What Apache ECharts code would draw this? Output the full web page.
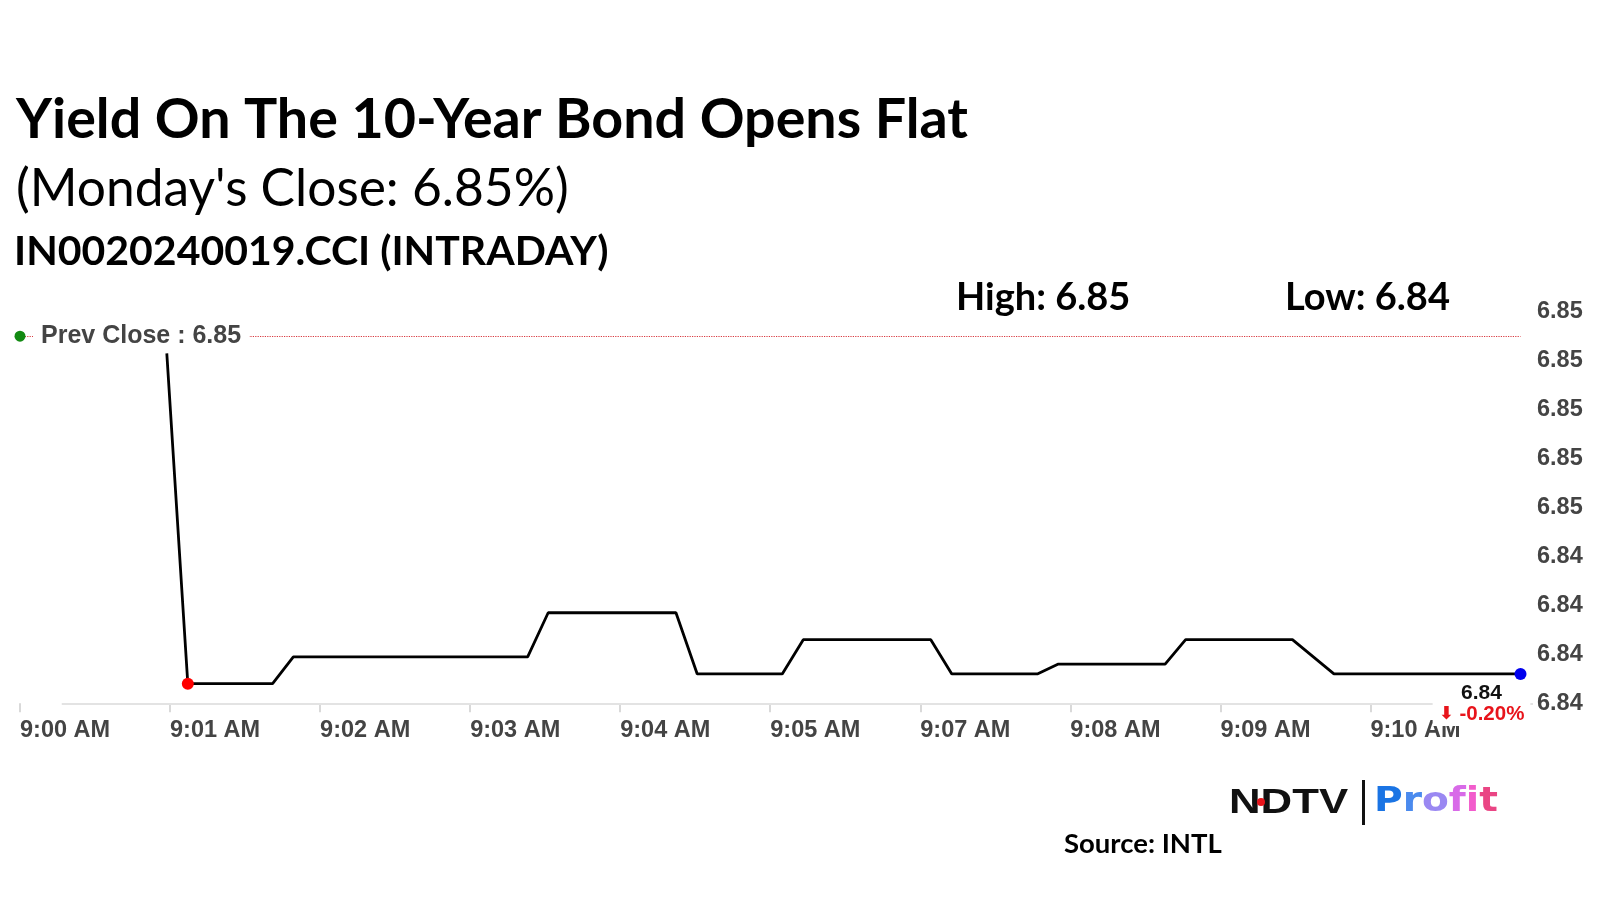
<!DOCTYPE html>
<html><head><meta charset="utf-8">
<script src="https://cdn.jsdelivr.net/npm/echarts@6/dist/echarts.min.js"></script>
<style>html,body{margin:0;padding:0;background:#fff}#c{width:1600px;height:900px}</style>
</head><body><div id="c"></div>
<script>
// x tick labels (one per minute tick from 9:00)
const tickLabels = ['9:00 AM','9:01 AM','9:02 AM','9:03 AM','9:04 AM','9:05 AM','9:07 AM','9:08 AM','9:09 AM','9:10 AM'];
// seconds after 9:00 for each vertex of the intraday line
const secs = [58.7, 67.1, 101.0, 109.3, 203.0, 211.2, 262.3, 270.8, 304.8, 313.2, 364.2, 372.6, 406.8, 415.0, 457.9, 466.1, 508.8, 525.4, 600.0];
// yield values (%)
const yields = [6.8523, 6.8388, 6.8388, 6.8399, 6.8399, 6.8417, 6.8417, 6.8392, 6.8392, 6.8406, 6.8406, 6.8392, 6.8392, 6.8396, 6.8396, 6.8406, 6.8406, 6.8392, 6.8392];
const prevClose = 6.8530;
const yMin = 6.838, yMax = 6.854, yStep = 0.002;
const xMax = 605;

const minIdx = yields.indexOf(Math.min(...yields.slice(1)));
const lastIdx = yields.length - 1;
const last = yields[lastIdx];
const pct = (last - prevClose) / prevClose * 100;

const AX = {color:'#444', fontFamily:'Liberation Sans, Arial', fontWeight:'bold', fontSize:23.5};

const lineData = secs.map((s, i) => {
  const d = {value:[s, yields[i]], symbol:'none'};
  if (i === minIdx) { d.symbol='circle'; d.symbolSize=12; d.itemStyle={color:'#ff0000'}; }
  if (i === lastIdx) {
    d.symbol='circle'; d.symbolSize=12; d.itemStyle={color:'#0000ee'};
    d.label = {
      show:true, position:'bottom', offset:[-39,-3],
      backgroundColor:'#fff', padding:[1,6],
      formatter: '{a|' + last.toFixed(2) + '}\n{c|' + (pct < 0 ? '⬇' : '⬆') + '}{b| ' + pct.toFixed(2) + '%}',
      rich:{
        a:{fontFamily:'Liberation Sans, Arial', fontWeight:'bold', fontSize:21, color:'#111', lineHeight:21, align:'center'},
        b:{fontFamily:'Liberation Sans, Arial', fontWeight:'bold', fontSize:20.5, color:'#e8141b', lineHeight:21},
        c:{fontFamily:'DejaVu Sans', fontWeight:'bold', fontSize:18, color:'#e8141b', lineHeight:21}
      }
    };
  }
  return d;
});

const chart = echarts.init(document.getElementById('c'), null, {renderer:'canvas'});
chart.setOption({
  backgroundColor:'#fff',
  animation:false,
  grid:{left:20, right:67, top:311.7, bottom:196.7},
  xAxis:{
    type:'value', min:0, max:xMax,
    axisLine:{show:false}, splitLine:{show:false},
    axisTick:{show:true, customValues: tickLabels.map((_, i) => i*60), length:9, lineStyle:{color:'#d9d9d9', width:2}},
    axisLabel:Object.assign({customValues: tickLabels.map((_, i) => i*60), align:'left', margin:15,
      formatter: v => tickLabels[Math.round(v/60)] || ''}, AX)
  },
  yAxis:{
    type:'value', position:'right', min:yMin, max:yMax, interval:yStep,
    axisLine:{show:false}, axisTick:{show:false}, splitLine:{show:false},
    axisLabel:Object.assign({margin:4, formatter: v => v.toFixed(2)}, AX)
  },
  series:[
    {
      type:'line', data:[], z:1, silent:true,
      markLine:{
        z:1, silent:true, symbol:['none','none'], label:{show:false},
        lineStyle:{type:'solid', color:'#e3e3e3', width:2},
        data:[[{coord:[16.7, yMin]}, {coord:[xMax, yMin]}]]
      }
    },
    {
      type:'line', z:3, data:lineData, symbol:'none',
      lineStyle:{color:'#000', width:2.8}, itemStyle:{color:'#000'},
      markLine:{
        z:4, silent:true, symbol:['none','none'],
        lineStyle:{type:'dotted', color:'#d83a40', width:1.2},
        label:{show:true, position:'insideStart', distance:[13,0], backgroundColor:'#fff', padding:[4,8],
          formatter:'Prev Close : ' + prevClose.toFixed(2),
          color:'#444', fontFamily:'Liberation Sans, Arial', fontWeight:'bold', fontSize:25},
        data:[[{coord:[0, prevClose]}, {coord:[600, prevClose]}]]
      },
      markPoint:{
        z:5, silent:true, symbol:'circle', symbolSize:11, itemStyle:{color:'#128a12'}, label:{show:false},
        data:[{coord:[0, prevClose]}]
      }
    }
  ],
  graphic:[
    {type:'text', x:16, y:120, style:{text:'Yield On The 10-Year Bond Opens Flat', fontFamily:'Lato', fontWeight:'bold', fontSize:55.6, fill:'#000', verticalAlign:'middle'}},
    {type:'text', x:16, y:189, style:{text:"(Monday's Close: 6.85%)", fontFamily:'Lato', fontWeight:'normal', fontSize:51.5, fill:'#000', verticalAlign:'middle'}},
    {type:'text', x:14, y:252, style:{text:'IN0020240019.CCI (INTRADAY)', fontFamily:'Lato', fontWeight:'bold', fontSize:41, fill:'#000', verticalAlign:'middle'}},
    {type:'text', x:956, y:298, style:{text:'High: 6.85', fontFamily:'Lato', fontWeight:'bold', fontSize:38, fill:'#000', verticalAlign:'middle'}},
    {type:'text', x:1285, y:298, style:{text:'Low: 6.84', fontFamily:'Lato', fontWeight:'bold', fontSize:38, fill:'#000', verticalAlign:'middle'}},
    {type:'text', x:1064, y:844, style:{text:'Source: INTL', fontFamily:'Lato', fontWeight:'bold', fontSize:27.5, fill:'#000', verticalAlign:'middle'}},
    {type:'text', x:1229, y:803, scaleX:1.25, style:{text:'NDTV', fontFamily:'Liberation Sans', fontWeight:'bold', fontSize:35, fill:'#111', verticalAlign:'middle'}},
    {type:'circle', shape:{cx:1261, cy:802, r:4}, style:{fill:'#e8141b'}},
    {type:'rect', shape:{x:1362, y:780, width:3, height:45}, style:{fill:'#111'}},
    {type:'text', x:1374, y:802, scaleX:1.15, style:{
      text:'{p|P}{r|r}{o|o}{f|f}{i|i}{t|t}', verticalAlign:'middle',
      fontFamily:'DejaVu Sans', fontWeight:'bold', fontSize:34,
      rich:{
        p:{fill:'#1a74e4', fontFamily:'DejaVu Sans', fontWeight:'bold', fontSize:34},
        r:{fill:'#4a8aee', fontFamily:'DejaVu Sans', fontWeight:'bold', fontSize:34},
        o:{fill:'#9a88f2', fontFamily:'DejaVu Sans', fontWeight:'bold', fontSize:34},
        f:{fill:'#d86ae8', fontFamily:'DejaVu Sans', fontWeight:'bold', fontSize:34},
        i:{fill:'#f25ccc', fontFamily:'DejaVu Sans', fontWeight:'bold', fontSize:34},
        t:{fill:'#ea4584', fontFamily:'DejaVu Sans', fontWeight:'bold', fontSize:34}
      }}}
  ]
});
</script></body></html>
